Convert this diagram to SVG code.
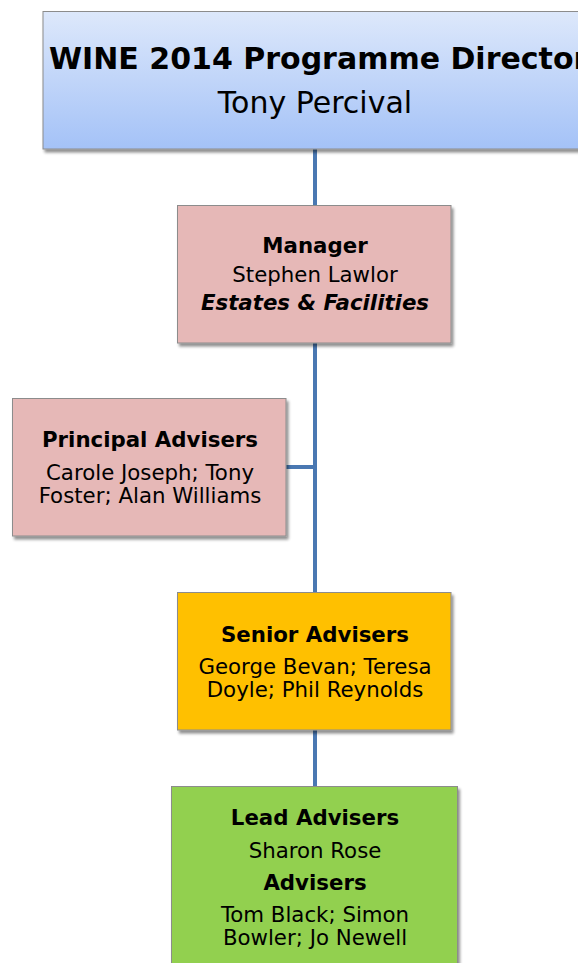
<svg xmlns="http://www.w3.org/2000/svg" width="578" height="963" viewBox="0 0 578 963">
<defs>
<linearGradient id="gBlue" x1="0" y1="0" x2="0" y2="1">
<stop offset="0" stop-color="#dde8fb"/>
<stop offset="1" stop-color="#a4c2f7"/>
</linearGradient>
<filter id="sh" x="-10%" y="-10%" width="130%" height="130%">
<feGaussianBlur in="SourceAlpha" stdDeviation="1.5"/>
<feOffset dx="2" dy="3" result="o"/>
<feComponentTransfer><feFuncA type="linear" slope="0.45"/></feComponentTransfer>
<feMerge><feMergeNode/><feMergeNode in="SourceGraphic"/></feMerge>
</filter>
</defs>
<style>
.box{stroke:#8c8c8c;stroke-width:1;filter:url(#sh)}
.t{font-family:"DejaVu Sans",Verdana,sans-serif;font-size:21.3px;fill:#000;text-anchor:middle}
.b{font-weight:bold}
.bi{font-weight:bold;font-style:italic}
.conn{stroke:#4a78b2;stroke-width:4;fill:none}
</style>
<rect width="578" height="963" fill="#fff"/>
<g id="connectors">
<line class="conn" x1="315" y1="149" x2="315" y2="205"/>
<line class="conn" x1="315" y1="343" x2="315" y2="592"/>
<line class="conn" x1="286" y1="467" x2="317" y2="467"/>
<line class="conn" x1="315" y1="730" x2="315" y2="786"/>
</g>
<g id="director">
<rect class="box" x="43" y="11.5" width="560" height="137.5" fill="url(#gBlue)"/>
<text class="t b" x="49" y="69" style="font-size:30px;text-anchor:start">WINE 2014 Programme Director</text>
<text class="t" x="315" y="113" style="font-size:30px">Tony Percival</text>
</g>
<g id="manager">
<rect class="box" x="177.5" y="205.5" width="273.5" height="137.5" fill="#e6b8b7"/>
<text class="t b" x="315" y="253">Manager</text>
<text class="t" x="315" y="282">Stephen Lawlor</text>
<text class="t bi" x="315" y="310">Estates &amp; Facilities</text>
</g>
<g id="principal">
<rect class="box" x="12.5" y="398.5" width="273.5" height="137.5" fill="#e6b8b7"/>
<text class="t b" x="150" y="447">Principal Advisers</text>
<text class="t" x="150" y="480">Carole Joseph; Tony</text>
<text class="t" x="150" y="503">Foster; Alan Williams</text>
</g>
<g id="senior">
<rect class="box" x="177.5" y="592.5" width="273.5" height="137.5" fill="#ffc000"/>
<text class="t b" x="315" y="642">Senior Advisers</text>
<text class="t" x="315" y="674">George Bevan; Teresa</text>
<text class="t" x="315" y="697">Doyle; Phil Reynolds</text>
</g>
<g id="lead">
<rect class="box" x="171.5" y="786.5" width="286" height="190" fill="#92d050"/>
<text class="t b" x="315" y="825">Lead Advisers</text>
<text class="t" x="315" y="858">Sharon Rose</text>
<text class="t b" x="315" y="890">Advisers</text>
<text class="t" x="315" y="922">Tom Black; Simon</text>
<text class="t" x="315" y="945">Bowler; Jo Newell</text>
</g>
</svg>
